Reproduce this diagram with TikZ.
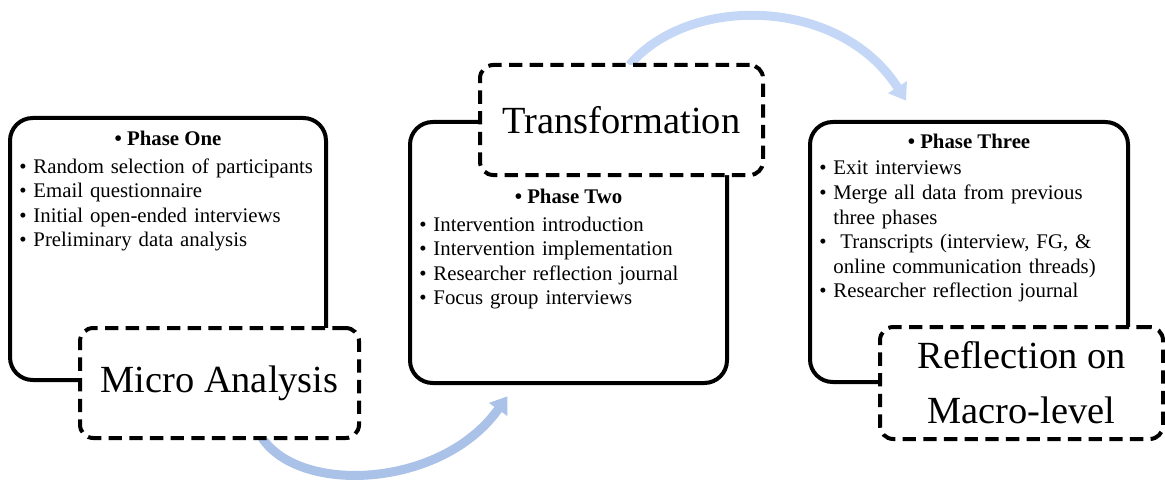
\documentclass[tikz,border=0pt]{standalone}
\usepackage{fontspec}
\setmainfont{Liberation Serif}
\usetikzlibrary{arrows.meta}
\usetikzlibrary{backgrounds}
\definecolor{flowlight}{RGB}{196,215,246}
\definecolor{flowdark}{RGB}{170,193,232}

\begin{document}
\begin{tikzpicture}[x = 0.75pt, y = -0.75pt,
  phasebox/.style = {draw, line width = 3pt, rounded corners = 17pt, fill = white,
                     inner sep = 0pt, outer sep = 0pt},
  stagebox/.style = {draw, line width = 3pt, dash pattern = on 10pt off 5.5pt,
                     rounded corners = 10pt, fill = white, inner sep = 0pt, outer sep = 0pt,
                     align = center, font = \fontsize{28.8}{41}\selectfont},
  phasehead/.style = {inner sep = 0pt, anchor = base, font = \fontsize{15.6}{18.4}\selectfont\bfseries},
  phaselist/.style = {inner sep = 0pt, anchor = base west, text width = 230pt, align = left,
                      font = \fontsize{15.6}{18.4}\selectfont},
  flow/.style = {line width = 6.75pt, -{Triangle[length = 12pt, width = 16pt]}}]
\useasboundingbox (0, 0) rectangle (1165, 485);
\node[phasebox, minimum width = 237pt, minimum height = 196.5pt] (ph1) at (168, 249) {};
\node[stagebox, minimum width = 209.25pt, minimum height = 82.5pt] (micro) at (219.5, 383) {Micro Analysis};
\node[phasebox, minimum width = 237.75pt, minimum height = 195.75pt] (ph2) at (568.5, 252.5) {};
\node[stagebox, minimum width = 212.25pt, minimum height = 82.5pt] (transf) at (621.5, 120) {Transformation};
\node[phasebox, minimum width = 238.5pt, minimum height = 195pt] (ph3) at (969, 252) {};
\node[stagebox, minimum width = 212.25pt, minimum height = 84pt] (macro) at (1021.5, 383) {Reflection on\\Macro-level};
\node[phasehead] (h1) at (168, 146) {\textbullet\ Phase One};
\node[phasehead] (h2) at (568.5, 204) {\textbullet\ Phase Two};
\node[phasehead] (h3) at (969, 149) {\textbullet\ Phase Three};
\node[phaselist] (l1) at (19, 173) {\textbullet\ Random selection of participants\\
  \textbullet\ Email questionnaire\\
  \textbullet\ Initial open-ended interviews\\
  \textbullet\ Preliminary data analysis};
\node[phaselist] (l2) at (419, 231) {\textbullet\ Intervention introduction\\
  \textbullet\ Intervention implementation\\
  \textbullet\ Researcher reflection journal\\
  \textbullet\ Focus group interviews};
\node[phaselist] (l3) at (819, 175) {\textbullet\ Exit interviews\\
  \textbullet\ Merge all data from previous\\
  \phantom{\textbullet\ }three phases\\
  \textbullet\ \ Transcripts (interview, FG, \&\\
  \phantom{\textbullet\ }online communication threads)\\
  \textbullet\ Researcher reflection journal};
\begin{scope}[on background layer]
\draw[flow, flowdark] ([xshift = 32pt]micro.south) .. controls +(38, 57) and +(-65, 92)
  .. ([xshift = 73pt, yshift = -10pt]ph2.south west);
\draw[flow, flowlight] ([xshift = 6pt]transf.north) .. controls +(60, -71) and +(-66, -104)
  .. ([xshift = 72pt, yshift = 16pt]ph3.north west);
\end{scope}
\end{tikzpicture}
\end{document}
